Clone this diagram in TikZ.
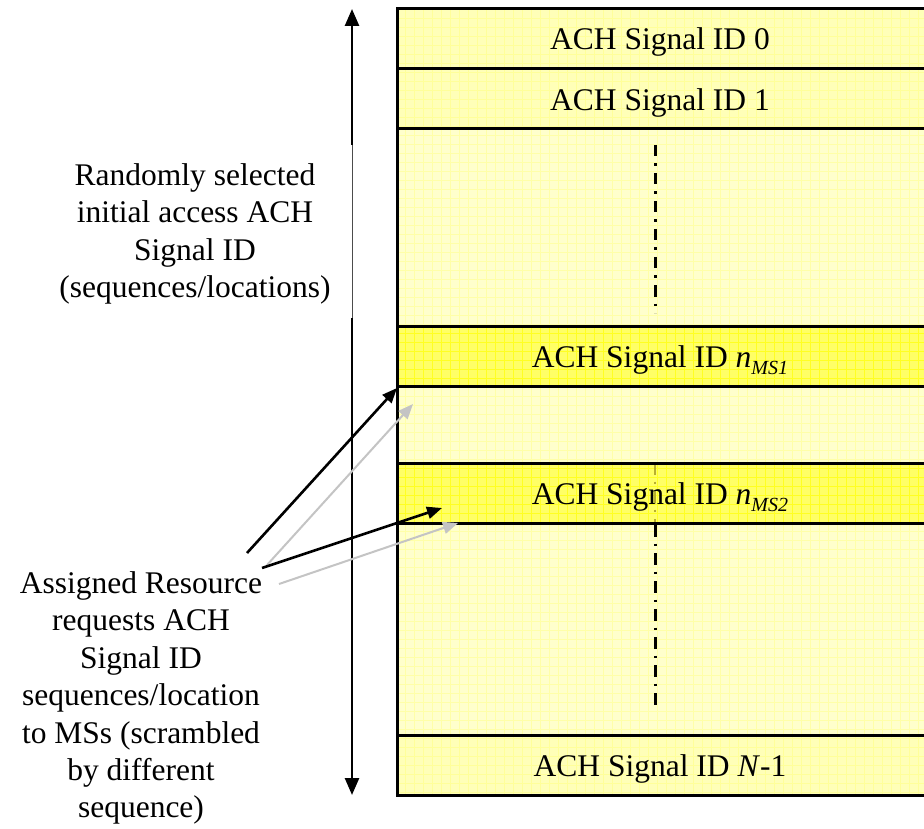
\documentclass[tikz,border=0pt]{standalone}
\usepackage{fontspec}
\setmainfont{Liberation Serif}
\usetikzlibrary{arrows.meta}
\definecolor{rowA}{HTML}{FFFFB8}
\definecolor{gridA}{HTML}{FFFF9A}
\definecolor{midC}{HTML}{FFFFCC}
\definecolor{gridM}{HTML}{FFFFA8}
\definecolor{hiC}{HTML}{FFFF66}
\definecolor{gridH}{HTML}{FFFF22}
\definecolor{arrgray}{HTML}{C4C4C4}
\definecolor{faintdash}{HTML}{B8AE30}
\begin{document}
\begin{tikzpicture}[x=1pt,y=-1pt,
  sidetext/.style={font=\fontsize{31.5}{37.4}\selectfont, align=center, inner sep=0pt, anchor=north},
  rowtext/.style={font=\fontsize{31.5}{37.4}\selectfont, inner sep=0pt, anchor=base},
  border/.style={line width=3pt},
  gridline/.style={line width=0.7pt, step=9pt},
  dashdot/.style={line width=3pt, dash pattern=on 11.5pt off 7pt on 2.5pt off 7pt},
  bigarrow/.style={line width=2.6pt, -{Triangle[length=17pt,width=14pt]}},
  blackarrow/.style={line width=2.6pt, -{Triangle[length=15pt,width=12pt]}},
  grayarrow/.style={line width=2pt, draw=arrgray, -{Triangle[length=15pt,width=12pt,fill=arrgray]}},
]
\useasboundingbox (0,0) rectangle (924,829);
\clip (0,0) rectangle (924,829);
\fill[white] (0,0) rectangle (924,829);
% fills and grids
\fill[rowA] (397,9) rectangle (930,129);
\draw[gridA,gridline] (397,9) grid (930,129);
\fill[midC] (397,129) rectangle (930,326);
\draw[gridM,gridline] (397,129) grid (930,326);
\fill[hiC] (397,326) rectangle (930,386);
\draw[gridH,gridline] (397,326) grid (930,386);
\fill[midC] (397,386) rectangle (930,463);
\draw[gridM,gridline] (397,386) grid (930,463);
\fill[hiC] (397,463) rectangle (930,523);
\draw[gridH,gridline] (397,463) grid (930,523);
\fill[midC] (397,523) rectangle (930,735);
\draw[gridM,gridline] (397,523) grid (930,735);
\fill[rowA] (397,735) rectangle (930,795);
\draw[gridA,gridline] (397,735) grid (930,795);
% dash-dot lines
\coordinate (d1a) at (655,145);
\coordinate (d1b) at (655,313);
\coordinate (d2a) at (655,463);
\coordinate (d2b) at (655,525);
\coordinate (d2c) at (655,706);
\draw[dashdot] (d1a) -- (d1b);
\draw[dashdot,faintdash,line width=1.5pt] (d2a) -- (d2b);
\draw[dashdot] (d2b) -- (d2c);
% borders
\draw[border] (930,9) -- (397,9) -- (397,795) -- (930,795);
\foreach \yy in {69,129,326,386,463,523,735} \draw[border] (397,\yy) -- (930,\yy);
% row labels
\node[rowtext] (l0) at (660,50) {ACH Signal ID 0};
\node[rowtext] (l1) at (660,110.5) {ACH Signal ID 1};
\node[rowtext] (l2) at (660,367) {ACH Signal ID \textit{n}\raisebox{-7pt}{\fontsize{20}{20}\selectfont\itshape MS1}};
\node[rowtext] (l3) at (660,504) {ACH Signal ID \textit{n}\raisebox{-7pt}{\fontsize{20}{20}\selectfont\itshape MS2}};
\node[rowtext] (l4) at (660,776.5) {ACH Signal ID \textit{N}-1};
% side texts
\node[sidetext] (t1) at (195,163.5) {Randomly selected\\initial access ACH\\Signal ID\\(sequences/locations)};
\node[sidetext] (t2) at (141,571.5) {Assigned Resource\\requests ACH\\Signal ID\\sequences/location\\to MSs (scrambled\\by different\\sequence)};
% vertical arrow
\coordinate (vtop) at (352,9);
\coordinate (vbot) at (352,795);
\coordinate (vm1) at (352,145);
\coordinate (vm2) at (352,318);
\draw[bigarrow] (vm1) -- (vtop);
\draw[line width=0.8pt, draw=black!70] (vm1) -- (vm2);
\draw[bigarrow] (vm2) -- (vbot);
% oblique arrows
\coordinate (a1s) at (247,553);
\coordinate (a1e) at (397,388);
\coordinate (g1s) at (267,565);
\coordinate (g1e) at (413,404);
\coordinate (a2s) at (262,568);
\coordinate (a2e) at (442,508);
\coordinate (g2s) at (279,584);
\coordinate (g2e) at (458,523);
\draw[grayarrow] (g1s) -- (g1e);
\draw[grayarrow] (g2s) -- (g2e);
\draw[blackarrow] (a1s) -- (a1e);
\draw[blackarrow] (a2s) -- (a2e);
\end{tikzpicture}
\end{document}
